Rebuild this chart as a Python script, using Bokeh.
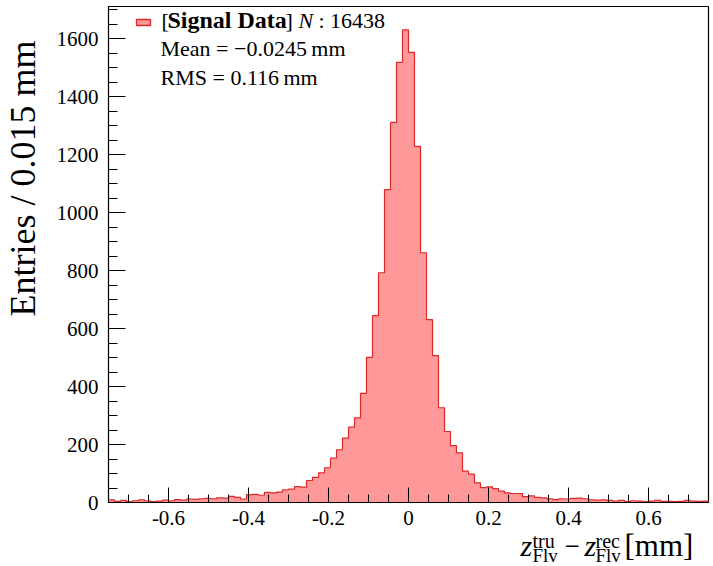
import math
from bokeh.plotting import figure
from bokeh.layouts import column, row
from bokeh.models import (FixedTicker, CustomJSTickFormatter, Label, BoxAnnotation, Range1d)
from bokeh.embed import file_html
from bokeh.resources import INLINE

# ---------------- data ----------------
x_min, x_max, bin_width = -0.75, 0.75, 0.015
counts = [
    9, 4, 7, 3, 6, 9, 6, 3, 5, 8, 6, 10, 8, 12, 11, 13, 14, 13, 16, 15, 21, 18, 12, 27,
    28, 25, 35, 33, 36, 44, 46, 55, 53, 76,
    87, 102, 120, 153, 182, 222, 260, 292, 377, 501,
    645, 793, 1080, 1312, 1519, 1631, 1554, 1229, 862, 631,
    507, 327, 245, 196, 171, 108, 98, 68, 51, 54, 48,
    39, 33, 31, 31, 20, 23, 18, 16, 13, 10, 13, 12, 14, 15, 13, 9, 8, 9, 7, 5,
    7, 3, 6, 5, 3, 5, 7, 4, 4, 3, 4, 7, 5, 4, 5,
]
x_major_ticks = [-0.6, -0.4, -0.2, 0.0, 0.2, 0.4, 0.6]
y_major_ticks = [0, 200, 400, 600, 800, 1000, 1200, 1400, 1600]
n_entries = 16438
mean_txt = "Mean = \u22120.0245\u2009mm"
rms_txt = "RMS = 0.116\u2009mm"
y_label = "Entries / 0.015 mm"
y_top = 1712

left_edges = [x_min + i * bin_width for i in range(len(counts))]
step_x = left_edges + [left_edges[-1] + bin_width]
step_y = counts + [counts[-1]]

FONT = "Liberation Serif"
FILL = "#ff9999"
LINE = "#dc2a2a"

YLAB_W = 48
MAIN_W, MAIN_H = 664, 533
BORDER_TOP, BORDER_BOTTOM = 6, 31
XLAB_H = 32
XLAB_OVERLAP = 18

# ---------------- main plot ----------------
p = figure(width=MAIN_W, height=MAIN_H, output_backend="svg", toolbar_location=None,
           x_range=Range1d(x_min, x_max), y_range=Range1d(0, y_top),
           min_border_left=60, min_border_right=4, min_border_top=BORDER_TOP,
           min_border_bottom=BORDER_BOTTOM)
p.background_fill_color = "white"
p.border_fill_color = "white"
p.outline_line_color = "black"
p.outline_line_width = 1.2
p.xgrid.visible = False
p.ygrid.visible = False

p.varea_step(x=step_x, y1=[0] * len(step_x), y2=step_y, step_mode="after",
             fill_color=FILL)
p.step(x=step_x, y=step_y, mode="after", line_color=LINE, line_width=1.2)

minor_x = [round(-0.7 + 0.05 * k, 3) for k in range(29)]
minor_y = [50 * k for k in range(35)]
p.xaxis.ticker = FixedTicker(ticks=x_major_ticks, minor_ticks=minor_x)
p.yaxis.ticker = FixedTicker(ticks=y_major_ticks, minor_ticks=minor_y)
p.xaxis.formatter = CustomJSTickFormatter(
    code="return Math.abs(tick) < 1e-9 ? '0' : tick.toFixed(1);")
for ax, maj, mnr in ((p.xaxis, 15, 8), (p.yaxis, 17, 9)):
    ax.major_tick_in = maj
    ax.major_tick_out = 0
    ax.minor_tick_in = mnr
    ax.minor_tick_out = 0
    ax.axis_line_color = "black"
    ax.major_tick_line_color = "black"
    ax.minor_tick_line_color = "black"
    ax.major_label_text_font = FONT
    ax.major_label_text_font_size = "21px"
    ax.major_label_text_color = "black"
p.xaxis.major_label_standoff = 8
p.yaxis.major_label_standoff = 10

SHIFT = 0.3  # empirical baseline correction (fraction of font size)


def lab(fig, x, y, t, size, style="normal", angle=0.0, align="left"):
    px = int(size.replace("px", ""))
    dx, dy = 0.0, SHIFT * px
    if angle:
        dx, dy = -SHIFT * px, 0.0
    fig.add_layout(Label(x=x + dx, y=y + dy, x_units="screen", y_units="screen", text=t,
                         text_align=align, text_baseline="alphabetic", angle=angle,
                         text_font=FONT, text_font_size=size, text_font_style=style,
                         text_color="black"))


# legend (inside frame, frame-relative screen units)
p.add_layout(BoxAnnotation(left=28, right=42, top=483, bottom=477,
                           left_units="screen", right_units="screen",
                           top_units="screen", bottom_units="screen",
                           fill_color=FILL, fill_alpha=1.0, line_color=LINE,
                           line_alpha=1.0, line_width=1.3))
lab(p, 53, 475, "[", "22px")
lab(p, 59, 475, "Signal Data", "24px", "bold")
lab(p, 177, 475, "]", "22px")
lab(p, 190, 475, "N", "22px", "italic")
lab(p, 210, 475, ": " + str(n_entries), "22px")
lab(p, 52, 447, mean_txt, "22px")
lab(p, 52, 418, rms_txt, "22px")


def blank(w, h, top=0, bottom=0, transparent=False):
    f = figure(width=w, height=h, output_backend="svg", toolbar_location=None,
               x_axis_type=None, y_axis_type=None, x_range=Range1d(0, 1),
               y_range=Range1d(0, 1), min_border=0,
               min_border_top=top, min_border_bottom=bottom)
    f.outline_line_color = None
    f.xgrid.visible = False
    f.ygrid.visible = False
    if transparent:
        f.background_fill_color = None
        f.border_fill_color = None
    else:
        f.background_fill_color = "white"
        f.border_fill_color = "white"
    return f


# y label panel (frame aligned with the main frame: bottom at page y=502)
ylab = blank(YLAB_W, MAIN_H, BORDER_TOP, BORDER_BOTTOM)
lab(ylab, 33, 502 - 178, y_label, "36px", angle=math.pi / 2, align="center")

# x label panel: transparent, pulled up over the main plot's bottom border
xlab = blank(YLAB_W + MAIN_W, XLAB_H + XLAB_OVERLAP, transparent=True)
xlab.styles = {"margin-top": f"-{XLAB_OVERLAP}px"}
lab(xlab, 520, 11, "z", "30px", "italic")
lab(xlab, 532, 19, "tru", "20px")
lab(xlab, 532, 4, "Flv", "19px")
lab(xlab, 564, 11, "\u2212", "27px")
lab(xlab, 584, 11, "z", "30px", "italic")
lab(xlab, 595, 19, "rec", "20px")
lab(xlab, 595, 4, "Flv", "19px")
lab(xlab, 624, 11, "[mm]", "31px")

layout = column(row(ylab, p, spacing=0), xlab, spacing=0)
open("out.html", "w").write(file_html(layout, INLINE))
